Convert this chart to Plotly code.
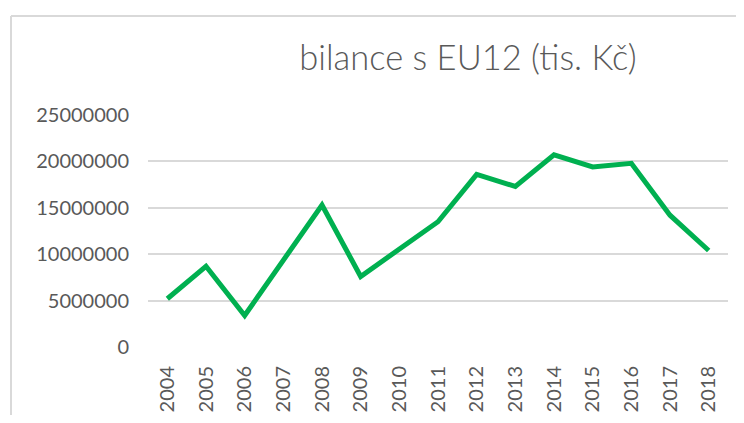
import plotly.graph_objects as go

years = ["2004", "2005", "2006", "2007", "2008", "2009", "2010", "2011",
         "2012", "2013", "2014", "2015", "2016", "2017", "2018"]
bilance = [5200000, 8700000, 3400000, 9300000, 15300000, 7600000, 10600000,
           13500000, 18600000, 17300000, 20700000, 19400000, 19800000,
           14200000, 10400000]
y_ticks = [0, 5000000, 10000000, 15000000, 20000000, 25000000]
title_text = "bilance s EU12 (tis. Kč)"

# page has an 8px body margin, so the figure is sized/offset to compensate
W, H = 728, 407
L, R, T, B = 140, 8, 107, 68
PW, PH = W - L - R, H - T - B

fig = go.Figure()
fig.add_trace(go.Scatter(
    x=years, y=bilance, mode="lines",
    line=dict(color="#00B050", width=5, shape="linear"),
    hoverinfo="x+y",
))

font_fam = "Lato, 'Open Sans', sans-serif"
fx = lambda px: (px - L) / PW
fy = lambda py: 1 - (py - T) / PH

fig.update_layout(
    width=W, height=H,
    margin=dict(l=L, r=R, t=T, b=B, pad=0, autoexpand=False),
    paper_bgcolor="white", plot_bgcolor="white",
    showlegend=False,
    font=dict(family=font_fam, color="#595959", size=20),
    title=dict(text=title_text, x=fx(460), xref="paper",
               xanchor="center", y=1 - 50 / H, yref="container",
               yanchor="middle",
               font=dict(family=font_fam, size=34.5, color="#595959",
                         weight=300)),
    xaxis=dict(type="category", range=[-0.5, 14.5], showgrid=False,
               showline=False, zeroline=False, ticks="", tickangle=-90,
               tickfont=dict(size=20, color="#595959"),
               ticklabelstandoff=14, automargin=False),
    yaxis=dict(range=[0, 25000000], tickvals=y_ticks,
               ticktext=[str(v) for v in y_ticks],
               showgrid=True, gridcolor="#D9D9D9", gridwidth=1.5,
               zeroline=False, showline=False, ticks="",
               tickfont=dict(size=20, color="#595959"),
               ticklabelstandoff=18, automargin=False),
    shapes=[
        dict(type="line", xref="paper", yref="paper",
             x0=fx(3), x1=fx(W), y0=fy(8), y1=fy(8),
             line=dict(color="#D9D9D9", width=2)),
        dict(type="line", xref="paper", yref="paper",
             x0=fx(3), x1=fx(3), y0=fy(H), y1=fy(8),
             line=dict(color="#D9D9D9", width=2)),
    ],
)

fig.write_html("out.html")
